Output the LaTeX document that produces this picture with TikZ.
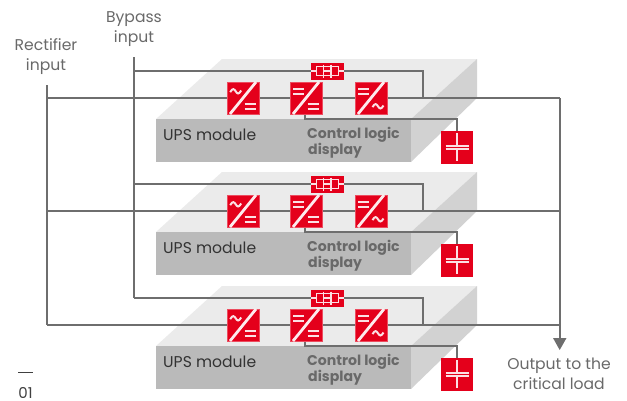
\documentclass[tikz,border=0pt]{standalone}
\usepackage{fontspec}
\setmainfont{Poppins}
\definecolor{lineg}{HTML}{6E6E6E}
\definecolor{topf}{HTML}{EBEBEB}
\definecolor{sidef}{HTML}{D2D2D2}
\definecolor{frontf}{HTML}{BABABA}
\definecolor{abbred}{HTML}{E4001B}
\definecolor{txtg}{HTML}{696969}
\tikzset{
  wire/.style={draw=lineg,line width=2.4pt},
  conv/.style={fill=abbred,draw=abbred!70!white,line width=.4pt,minimum width=32pt,minimum height=32pt,inner sep=0pt,outer sep=0pt},
  batt/.style={fill=abbred,minimum width=32pt,minimum height=33pt,inner sep=0pt,outer sep=0pt},
  sws/.style={fill=abbred,minimum width=33pt,minimum height=17pt,inner sep=0pt,outer sep=0pt},
  glyph/.style={draw=white!88!abbred,line width=2pt},
  diag/.style={draw=white!92!abbred,line width=2.8pt},
  lbl/.style={text=txtg,font=\fontsize{15.6}{20}\selectfont,align=center,inner sep=0pt},
  modl/.style={text=black!80,font=\fontsize{15.6}{17}\selectfont,anchor=west,inner sep=0pt},
  ctrl/.style={text=txtg,font=\fontsize{14.1}{17}\selectfont\bfseries,anchor=west,inner sep=0pt},
}
\newcommand{\eqsign}[2]{\draw[glyph] (#1-5.5,#2-2.7) -- (#1+5.5,#2-2.7) (#1-5.5,#2+2.7) -- (#1+5.5,#2+2.7);}
\newcommand{\tildesign}[2]{\draw[glyph] (#1-5.5,#2+.8) .. controls (#1-3,#2-3.6) and (#1-1.5,#2-2.4) .. (#1,#2) .. controls (#1+1.5,#2+2.4) and (#1+3,#2+3.6) .. (#1+5.5,#2-.8);}
\begin{document}
\begin{tikzpicture}[x=1pt,y=-1pt]
\useasboundingbox (0,0) rectangle (627,400);
\foreach \i/\d in {1/0,2/113,3/227}{
 \begin{scope}[yshift=-\d pt]
  \fill[topf] (222,59) -- (477,59) -- (411,119) -- (156,119) -- cycle;
  \fill[sidef] (477,59) -- (477,98) -- (411,162) -- (411,119) -- cycle;
  \fill[frontf] (156,119) rectangle (411,162);
  \coordinate (bl\i) at (134,71);
  \coordinate (br\i) at (423,71);
  \coordinate (bj\i) at (423,98);
  \coordinate (rl\i) at (47,98);
  \coordinate (rr\i) at (560,98);
  \coordinate (dc\i) at (305,119);
  \coordinate (dd\i) at (457,119);
  \node[sws] (sw\i) at (327.5,71) {};
  \node[conv] (a\i) at (243,98) {};
  \node[conv] (b\i) at (306,98) {};
  \node[conv] (c\i) at (371,98) {};
  \node[batt] (e\i) at (457,147) {};
  \draw[wire] (bl\i) -- (sw\i.west) (sw\i.east) -- (br\i) -- (bj\i);
  \draw[wire] (rl\i) -- (a\i) -- (b\i) -- (c\i) -- (rr\i);
  \draw[wire] (b\i.south -| dc\i) -- (dc\i) -- (dd\i) -- (e\i.north);
  \node[conv] at (a\i) {};
  \node[conv] at (b\i) {};
  \node[conv] at (c\i) {};
  \node[sws] at (sw\i) {};
  \foreach \n in {a,b,c}{
    \draw[diag] (\n\i.south west) ++(3,0) -- ++(26,-32);
  }
  \tildesign{235.7}{91.3}
  \eqsign{250}{106.3}
  \eqsign{298.7}{91.3}
  \eqsign{313}{106.3}
  \eqsign{363.7}{91.3}
  \tildesign{378}{106.3}
  \draw[glyph,line width=1.3pt] (sw\i.west) -- ++(5,0) (sw\i.east) -- ++(-5,0);
  \draw[glyph,line width=1.3pt] (316.5,66.5) rectangle (338.5,75.5);
  \draw[glyph,line width=1.3pt] (323.5,64.5) -- (323.5,77.5) (331,64.5) -- (331,77.5);
  \draw[glyph,line width=1.3pt] (323.5,71) -- (331,71);
  \draw[glyph] (e\i.center) ++(0,-14) -- ++(0,12.5) (e\i.center) ++(-11.5,-1.5) -- ++(23,0);
  \draw[glyph] (e\i.center) ++(-11.5,2) -- ++(23,0) (e\i.center) ++(0,2) -- ++(0,11.5);
  \node[modl] (u\i) at (163,134.5) {UPS module};
  \node[ctrl] (k\i) at (307,135) {Control logic};
  \node[ctrl] (l\i) at (308,151) {display};
 \end{scope}
}
\coordinate (bt) at (134,57);
\coordinate (rt) at (47,85);
\coordinate (tip) at (559.5,350);
\draw[wire] (bt) -- (bl3);
\draw[wire] (rt) -- (rl3);
\draw[wire] (rr1) -- (560,340);
\fill[lineg] (553,338) -- (566.5,338) -- (559.7,350) -- cycle;
\node[lbl] (bi) at (134,29.5) {Bypass\\input};
\node[lbl] (ri) at (46,57) {Rectifier\\input};
\node[lbl] (oi) at (559,373.5) {Output to the\\critical load};
\coordinate (d1) at (18,372.5);
\coordinate (d2) at (33,372.5);
\draw[draw=black!75,line width=.8pt] (d1) -- (d2);
\node[text=black!75,font=\fontsize{15}{16}\selectfont,inner sep=0pt] (num) at (25.5,392.5) {01};
\end{tikzpicture}
\end{document}
